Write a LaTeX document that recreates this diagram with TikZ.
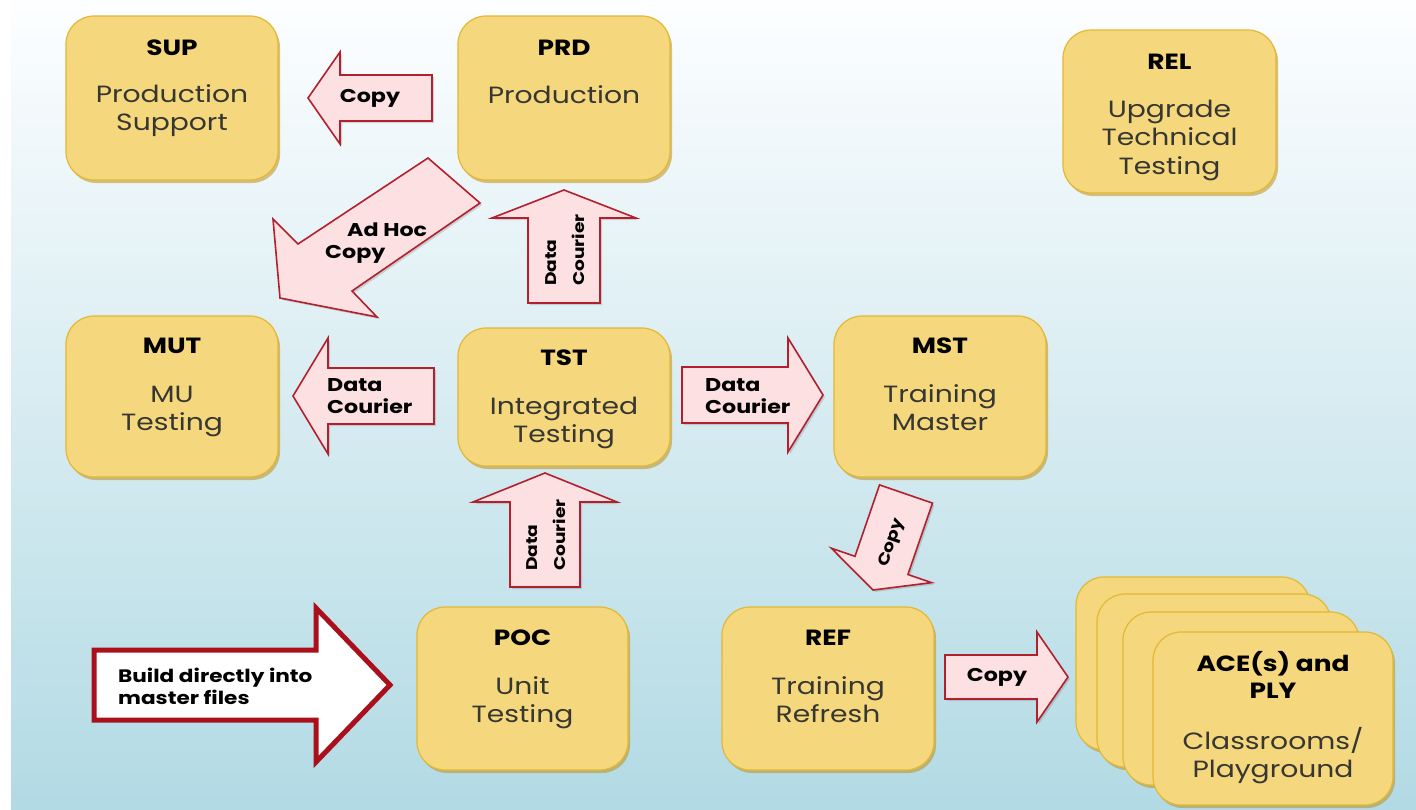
\documentclass[tikz,border=0pt]{standalone}
\usepackage{fontspec}
\setmainfont{Poppins}[FakeStretch=1.2]
\usetikzlibrary{calc,fit,shadows}

\definecolor{boxfill}{RGB}{245,215,125}
\definecolor{boxedge}{RGB}{226,184,52}
\definecolor{boxshade}{RGB}{185,145,35}
\definecolor{arrowfill}{RGB}{253,224,225}
\definecolor{arrowedge}{RGB}{178,32,46}
\definecolor{bigedge}{RGB}{170,16,28}
\definecolor{bodygray}{RGB}{55,55,50}
\definecolor{bgtop}{RGB}{253,254,255}
\definecolor{bgmid}{RGB}{230,242,247}
\definecolor{bgbot}{RGB}{178,218,228}

\newcommand\headfont{\fontsize{22}{27}\selectfont\bfseries}
\newcommand\bodyfont{\fontsize{23.5}{28.5}\selectfont}
\newcommand\arrowfont{\fontsize{18.5}{22}\selectfont\bfseries}
\newcommand\turnedfont{\fontsize{15.5}{28}\selectfont\bfseries}
\newcommand\bigfont{\fontsize{18}{22}\selectfont\bfseries}

\tikzset{
  sysbox/.style={draw=boxedge, line width=1.2pt, fill=boxfill, rounded corners=28pt,
    inner sep=0pt,
    drop shadow={shadow xshift=2pt, shadow yshift=-3pt, fill=boxshade, opacity=0.55}},
  headtext/.style={font=\headfont, text=black, inner sep=0pt, anchor=base},
  bodytext/.style={font=\bodyfont, text=bodygray, inner sep=0pt, anchor=base},
  flowarrow/.style={draw=arrowedge, line width=1.6pt, fill=arrowfill, line join=miter,
    drop shadow={shadow xshift=2pt, shadow yshift=-2pt, opacity=0.3}},
  arrowtext/.style={font=\arrowfont, text=black, inner sep=0pt, align=left},
  turnedtext/.style={font=\turnedfont, text=black, inner sep=0pt, align=left},
  bigarrow/.style={draw=bigedge, line width=5pt, fill=white, line join=miter},
  bigtext/.style={font=\bigfont, text=black, inner sep=0pt, align=left},
}

% system box: name, left, top, right, bottom, heading baseline, body baseline, heading, body
\newcommand\sysbox[9]{%
  \node[sysbox, fit={(#2,#3) (#4,#5)}] (#1) {};
  \node[headtext] (#1-head) at ({(#2+#4)/2},#6)
    {\begin{tabular}[t]{@{}c@{}}#8\end{tabular}};
  \node[bodytext] (#1-body) at ({(#2+#4)/2},#7)
    {\begin{tabular}[t]{@{}c@{}}#9\end{tabular}};
}

% block arrow: tail, tip, half shaft width, half head width, head length, style
\newcommand\blockarrow[6]{%
  \path ($(#2)!#5!(#1)$) coordinate (#2-base);
  \draw[#6] ($(#1)!#3!90:(#2)$) -- ($(#2-base)!#3!90:(#2)$)
    -- ($(#2-base)!#4!90:(#2)$) -- (#2)
    -- ($(#2-base)!#4!-90:(#2)$) -- ($(#2-base)!#3!-90:(#2)$)
    -- ($(#1)!#3!-90:(#2)$) -- cycle;
}

\begin{document}
\begin{tikzpicture}[x=1pt, y=-1pt]
  \useasboundingbox (0,0) rectangle (1416,809);
  % backdrop
  \fill[white] (0,0) rectangle (1416,809);
  \shade[top color=bgtop, middle color=bgmid, bottom color=bgbot] (11,0) rectangle (1416,809);

  % systems
  \sysbox{SUP}{66}{16}{278}{180}{55}{102}{SUP}{Production\\Support}
  \sysbox{PRD}{458}{16}{670}{180}{55}{103}{PRD}{Production}
  \sysbox{REL}{1063}{30}{1276}{193}{69}{117}{REL}{Upgrade\\Technical\\Testing}
  \sysbox{MUT}{66}{316}{278}{477}{353}{402}{MUT}{MU\\Testing}
  \sysbox{TST}{458}{328}{670}{466}{365}{414}{TST}{Integrated\\Testing}
  \sysbox{MST}{834}{316}{1046}{477}{353}{402}{MST}{Training\\Master}
  \sysbox{POC}{417}{607}{628}{770}{645}{694}{POC}{Unit\\Testing}
  \sysbox{REF}{722}{607}{934}{770}{645}{694}{REF}{Training\\Refresh}

  % stack of classroom copies, back to front
  \node[sysbox, fit={(1076,577) (1310,750)}] (ACE3) {};
  \node[sysbox, fit={(1097,594) (1331,767)}] (ACE2) {};
  \node[sysbox, fit={(1123,612) (1359,785)}] (ACE1) {};
  \sysbox{ACE}{1153}{632}{1393}{805}{671}{749}{ACE(s) and\\PLY}{Classrooms/\\Playground}

  % arrow end points
  \coordinate (cpS-tail) at (432,98);   \coordinate (cpS-tip) at (308,98);
  \coordinate (dcP-tail) at (564,303);  \coordinate (dcP-tip) at (564,190);
  \coordinate (dcT-tail) at (545,587);  \coordinate (dcT-tip) at (545,473);
  \coordinate (dcM-tail) at (434,396);  \coordinate (dcM-tip) at (293,396);
  \coordinate (dcS-tail) at (682,395);  \coordinate (dcS-tip) at (823,395);
  \coordinate (cpR-tail) at (906,494);  \coordinate (cpR-tip) at (873,590);
  \coordinate (cpA-tail) at (945,677);  \coordinate (cpA-tip) at (1068,677);
  \coordinate (bld-tail) at (94,685);   \coordinate (bld-tip) at (390,685);

  % flows
  \blockarrow{cpS-tail}{cpS-tip}{23pt}{46pt}{32pt}{flowarrow}
  \node[arrowtext] (cpS-text) at (370,98) {Copy};

  \draw[flowarrow] (428,158) -- (298,244) -- (273,219) -- (280,298)
    -- (377,317) -- (352,291) -- (480,203) -- cycle;
  \node[arrowtext, anchor=base west] (adhoc-1) at (347,236) {Ad Hoc};
  \node[arrowtext, anchor=base west] (adhoc-2) at (325,258) {Copy};

  \blockarrow{dcP-tail}{dcP-tip}{36pt}{72pt}{28pt}{flowarrow}
  \node[turnedtext, rotate=90, anchor=west] (dcP-text) at (565,286) {Data\\Courier};

  \blockarrow{dcT-tail}{dcT-tip}{35pt}{72pt}{29pt}{flowarrow}
  \node[turnedtext, rotate=90, anchor=west] (dcT-text) at (546,571) {Data\\Courier};

  \blockarrow{dcM-tail}{dcM-tip}{28pt}{58pt}{35pt}{flowarrow}
  \node[arrowtext, anchor=west] (dcM-text) at (327,396) {Data\\Courier};

  \blockarrow{dcS-tail}{dcS-tip}{28pt}{57pt}{35pt}{flowarrow}
  \node[arrowtext, anchor=west] (dcS-text) at (705,396) {Data\\Courier};

  \blockarrow{cpR-tail}{cpR-tip}{28pt}{53pt}{26pt}{flowarrow}
  \node[turnedtext, rotate=71] (cpR-text) at (892,543) {Copy};

  \blockarrow{cpA-tail}{cpA-tip}{22pt}{45pt}{31pt}{flowarrow}
  \node[arrowtext] (cpA-text) at (997,677) {Copy};

  \blockarrow{bld-tail}{bld-tip}{35pt}{77pt}{74pt}{bigarrow}
  \node[bigtext, anchor=west] (bld-text) at (118,686) {Build directly into\\master files};
\end{tikzpicture}
\end{document}
